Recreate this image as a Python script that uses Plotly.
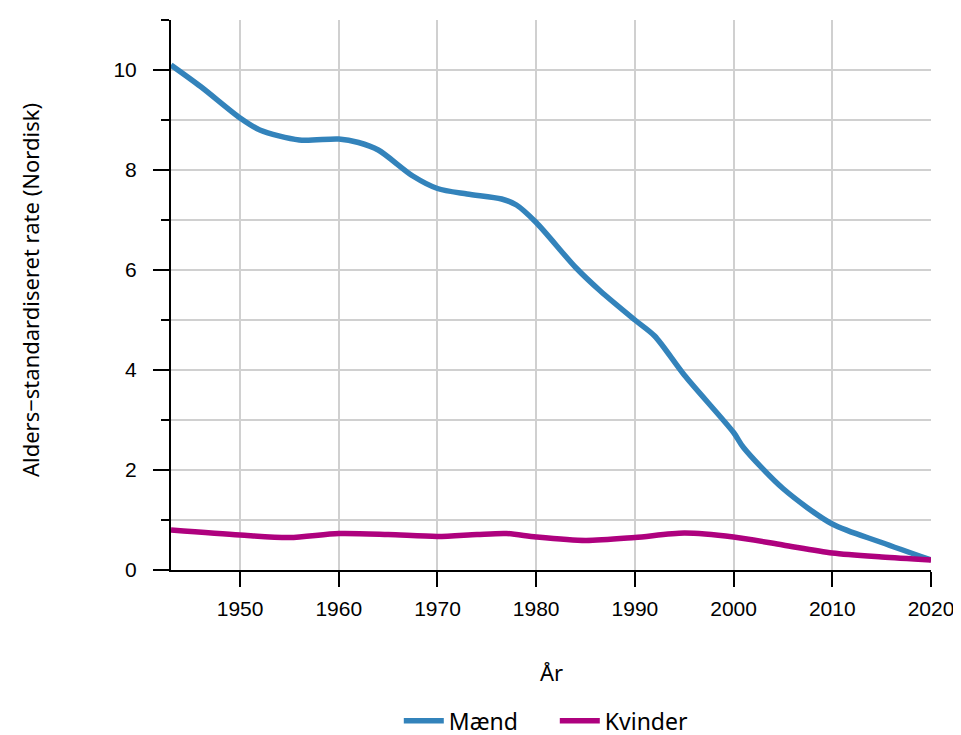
import plotly.graph_objects as go

years_m = [1943, 1946, 1950, 1952, 1956, 1960, 1962, 1964, 1967.5, 1970, 1973, 1976.5, 1978, 1980, 1984, 1986.5, 1990, 1992, 1995, 2000, 2001, 2005, 2010, 2015, 2020]
maend = [10.1, 9.67, 9.04, 8.8, 8.6, 8.62, 8.55, 8.4, 7.88, 7.63, 7.52, 7.42, 7.3, 6.95, 6.05, 5.58, 5.0, 4.68, 3.9, 2.75, 2.45, 1.63, 0.92, 0.55, 0.2]

years_k = [1943, 1950, 1955, 1960, 1965, 1970, 1974, 1977, 1980, 1985, 1990, 1995, 2000, 2005, 2010, 2015, 2020]
kvinder = [0.8, 0.7, 0.65, 0.73, 0.71, 0.67, 0.71, 0.73, 0.66, 0.59, 0.65, 0.74, 0.66, 0.5, 0.34, 0.26, 0.2]

x_ticks = [1950, 1960, 1970, 1980, 1990, 2000, 2010, 2020]

fig = go.Figure()
fig.add_trace(go.Scatter(x=years_m, y=maend, mode="lines", name="Mænd",
                         line=dict(color="#3383bb", width=5.5, shape="spline", smoothing=0.8)))
fig.add_trace(go.Scatter(x=years_k, y=kvinder, mode="lines", name="Kvinder",
                         line=dict(color="#ae017e", width=5.5, shape="spline", smoothing=0.8)))

title_font = dict(family="Noto Sans", size=22, color="black")

fig.update_layout(
    width=961, height=735,
    margin=dict(l=163, r=38, t=12, b=173, autoexpand=False),
    plot_bgcolor="white", paper_bgcolor="white",
    font=dict(family="Liberation Sans", size=21, color="black"),
    legend=dict(orientation="h", x=0.505, xanchor="center", y=-0.274, yanchor="middle",
                font=dict(family="Noto Sans", size=23, color="black"), itemwidth=40,
                entrywidth=101, entrywidthmode="pixels"),
    xaxis=dict(range=[1943, 2020], tickvals=x_ticks, showgrid=True, gridcolor="#d0d0d0", gridwidth=2,
               showline=True, linecolor="black", linewidth=2, ticks="outside", ticklen=15,
               tickwidth=2, tickcolor="black", zeroline=False, ticklabelstandoff=4),
    yaxis=dict(range=[0, 11], dtick=2, tick0=0, showgrid=True, gridcolor="#d0d0d0", gridwidth=2,
               showline=True, linecolor="black", linewidth=2, ticks="outside", ticklen=16,
               tickwidth=2, tickcolor="black", zeroline=False, ticklabelstandoff=12,
               minor=dict(dtick=1, tick0=0, ticks="outside", ticklen=8, tickwidth=2, tickcolor="black",
                          showgrid=True, gridcolor="#d0d0d0", gridwidth=2)),
    annotations=[
        dict(text="År", xref="paper", yref="paper", x=0.5, y=-0.185, xanchor="center", yanchor="middle",
             showarrow=False, font=title_font),
        dict(text="Alders−standardiseret rate (Nordisk)", xref="paper", yref="paper", x=-0.1855, y=0.509,
             xanchor="center", yanchor="middle", textangle=-90, showarrow=False, font=title_font),
    ],
)

fig.write_html("out.html")
